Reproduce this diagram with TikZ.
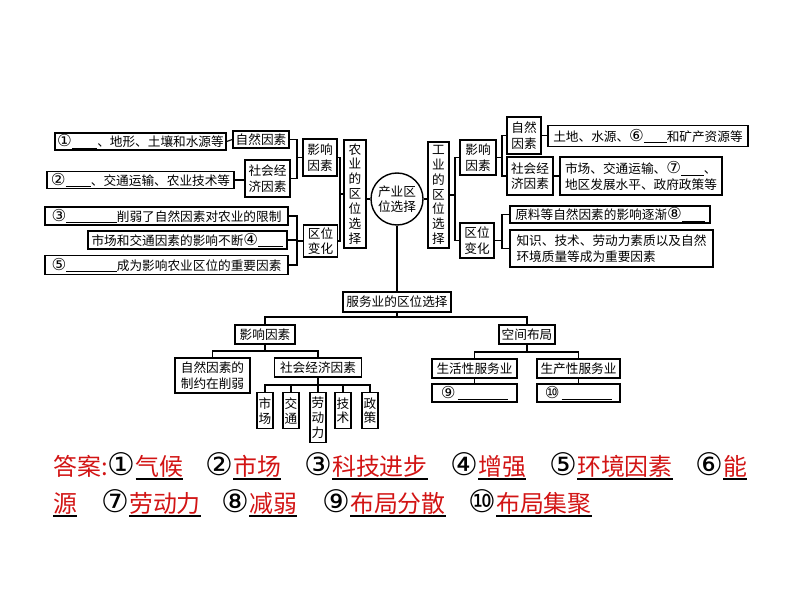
\documentclass[tikz,border=0pt]{standalone}
\usepackage{fontspec}
\setmainfont{Noto Sans CJK SC}
\newfontfamily\circfont[Scale=1.3]{DejaVu Sans}
\definecolor{ansred}{RGB}{210,20,20}
\newlength\px
\setlength\px{0.025cm}
\newcommand{\blank}[1]{\rule[-0.12em]{#1}{0.06em}}
\newcommand{\cn}[1]{{\circfont #1}}
\newcommand{\answord}[1]{\setbox0\hbox{\textcolor{ansred}{#1}}\rlap{\color{black}\rule[-0.2em]{\wd0}{0.06em}}\box0}

\begin{document}
\begin{tikzpicture}[x=0.025cm,y=-0.025cm,
  box/.style={draw,line width=1pt,inner sep=0pt,align=center,font=\fontsize{9}{11}\selectfont},
  vbox/.style={box,font=\fontsize{9}{10.6}\selectfont},
  link/.style={line width=0.8pt},
  answer/.style={anchor=base west,inner sep=0pt,font=\fontsize{17}{20}\selectfont}]
\useasboundingbox (0,0) rectangle (794,596);

\node[box,minimum width=171\px,minimum height=17\px] (a1) at (140.5,141.5) {\cn{①}\blank{2em}、地形、土壤和水源等};
\node[box,minimum width=187\px,minimum height=17\px] (a2) at (140.5,180) {\cn{②}\blank{2em}、交通运输、农业技术等};
\node[box,minimum width=243\px,minimum height=18\px] (a3) at (166.5,216) {\cn{③}\blank{4em}削弱了自然因素对农业的限制};
\node[box,minimum width=199\px,minimum height=18\px] (a4) at (187.5,240) {市场和交通因素的影响不断\cn{④}\blank{2em}};
\node[box,minimum width=243\px,minimum height=19\px] (a5) at (166.5,265) {\cn{⑤}\blank{4em}成为影响农业区位的重要因素};
\node[box,minimum width=56\px,minimum height=17\px] (anat) at (261,139.5) {自然因素};
\node[box,minimum width=45\px,minimum height=37\px] (asoc) at (267.5,178.5) {社会经\\济因素};
\node[box,minimum width=34\px,minimum height=37\px] (ainf) at (320,157.5) {影响\\因素};
\node[box,minimum width=34\px,minimum height=32\px] (achg) at (320.5,241) {区位\\变化};
\node[vbox,minimum width=22\px,minimum height=108\px] (agri) at (355,194) {农\\业\\的\\区\\位\\选\\择};
\node[box,circle,minimum size=52\px] (hub) at (397,199) {产业区\\位选择};
\node[vbox,minimum width=21\px,minimum height=106\px] (ind) at (438.5,195) {工\\业\\的\\区\\位\\选\\择};
\node[box,minimum width=36\px,minimum height=35\px] (iinf) at (478,157.5) {影响\\因素};
\node[box,minimum width=34\px,minimum height=35\px] (ichg) at (477,240.5) {区位\\变化};
\node[box,minimum width=34\px,minimum height=37\px] (inat) at (524,135.5) {自然\\因素};
\node[box,minimum width=46\px,minimum height=38\px] (isoc) at (530,176) {社会经\\济因素};
\node[box,minimum width=200\px,minimum height=21\px] (i1) at (648,136) {土地、水源、\cn{⑥}\blank{1.8em}和矿产资源等};
\node[box,align=left,minimum width=162\px,minimum height=38\px] (i2) at (641,176) {市场、交通运输、\cn{⑦}\blank{1.8em}、\\地区发展水平、政府政策等};
\node[box,minimum width=200\px,minimum height=17\px] (i3) at (610,214.5) {原料等自然因素的影响逐渐\cn{⑧}\blank{1.8em}};
\node[box,align=left,minimum width=203\px,minimum height=37\px] (i4) at (611.5,248.5) {知识、技术、劳动力素质以及自然\\环境质量等成为重要因素};

\node[box,minimum width=108\px,minimum height=20\px] (srv) at (397,302) {服务业的区位选择};
\node[box,minimum width=60\px,minimum height=19\px] (sinf) at (265,334.5) {影响因素};
\node[box,minimum width=56\px,minimum height=19\px] (slay) at (527,334.5) {空间布局};
\node[box,minimum width=75\px,minimum height=35\px] (snat) at (212.5,375.5) {自然因素的\\制约在削弱};
\node[box,minimum width=87\px,minimum height=19\px] (ssoc) at (318,367.5) {社会经济因素};
\node[box,minimum width=85\px,minimum height=19\px] (slife) at (474.5,368.5) {生活性服务业};
\node[box,minimum width=83\px,minimum height=19\px] (sprod) at (578.5,368.5) {生产性服务业};
\node[box,minimum width=85\px,minimum height=18\px] (s9) at (474.5,393) {\cn{⑨}\,\blank{4em}};
\node[box,minimum width=83\px,minimum height=18\px] (s10) at (578.5,393) {\cn{⑩}\,\blank{4em}};
\foreach \x/\h/\t [count=\i] in {265/36/市\\场,291/36/交\\通,318/50/劳\\动\\力,343/36/技\\术,370/36/政\\策}
  \node[vbox,anchor=north,minimum width=16\px,minimum height=\h\px] (f\i) at (\x,392) {\t};

\coordinate (ab1) at (297,157.5);
\coordinate (ab2) at (297,241);
\coordinate (ab3) at (340,194);
\coordinate (ib1) at (455,195);
\coordinate (ib2) at (502,157.5);
\coordinate (ib3) at (502,240.5);
\coordinate (sb) at (397,317);
\coordinate (tb) at (265,351);
\coordinate (fb) at (318,385);
\coordinate (lb) at (527,352);

\draw[link] (anat.east) -| (ab1) -- (ainf.west);
\draw[link] (asoc.east) -| (ab1);
\draw[link] (a1.east) -- (anat.west);
\draw[link] (a2.east) -- (a2.east -| asoc.west);
\draw[link] (a3.east) -| (ab2) -- (achg.west);
\draw[link] (a4.east) -- (a4.east -| ab2);
\draw[link] (a5.east) -| (ab2);
\draw[link] (ainf.east) -| (ab3) -- (agri.west);
\draw[link] (achg.east) -| (ab3);
\draw[link] (hub.west) -- (hub.west -| agri.east);
\draw[link] (hub.east) -- (hub.east -| ind.west);
\draw[link] (ind.east) -- (ib1) |- (iinf.west);
\draw[link] (ib1) |- (ichg.west);
\draw[link] (iinf.east) -- (ib2) |- (inat.west);
\draw[link] (ib2) |- (isoc.west);
\draw[link] (ichg.east) -- (ib3) |- (i3.west);
\draw[link] (ib3) |- (i4.west);
\draw[link] (inat.east) -- (inat.east -| i1.west);
\draw[link] (isoc.east) -- (isoc.east -| i2.west);
\draw[link] (hub.south) -- (srv.north);
\draw[link] (srv.south) -- (sb);
\draw[link] (sinf.north) |- (sb) -| (slay.north);
\draw[link] (sinf.south) -- (tb);
\draw[link] (snat.north) |- (tb) -| (ssoc.north);
\draw[link] (ssoc.south) -- (fb);
\draw[link] (f1.north) |- (fb) -| (f5.north);
\foreach \n in {f2,f3,f4} \draw[link] (\n.north) -- (\n.north |- fb);
\draw[link] (slay.south) -- (lb);
\draw[link] (slife.north) |- (lb) -| (sprod.north);
\draw[link] (slife) -- (s9);
\draw[link] (sprod) -- (s10);

\node[answer] (ans1) at (53,475) {\textcolor{ansred}{答案:}\cn{①}\answord{气候}};
\node[answer] (ans2) at (205,475) {\cn{②}\answord{市场}};
\node[answer] (ans3) at (304,475) {\cn{③}\answord{科技进步}};
\node[answer] (ans4) at (450,475) {\cn{④}\answord{增强}};
\node[answer] (ans5) at (549,475) {\cn{⑤}\answord{环境因素}};
\node[answer] (ans6) at (695,475) {\cn{⑥}\answord{能}};
\node[answer] (ans6b) at (53,512) {\answord{源}};
\node[answer] (ans7) at (101,512) {\cn{⑦}\answord{劳动力}};
\node[answer] (ans8) at (221,512) {\cn{⑧}\answord{减弱}};
\node[answer] (ans9) at (322,512) {\cn{⑨}\answord{布局分散}};
\node[answer] (ans10) at (468,512) {\cn{⑩}\answord{布局集聚}};
\end{tikzpicture}
\end{document}
